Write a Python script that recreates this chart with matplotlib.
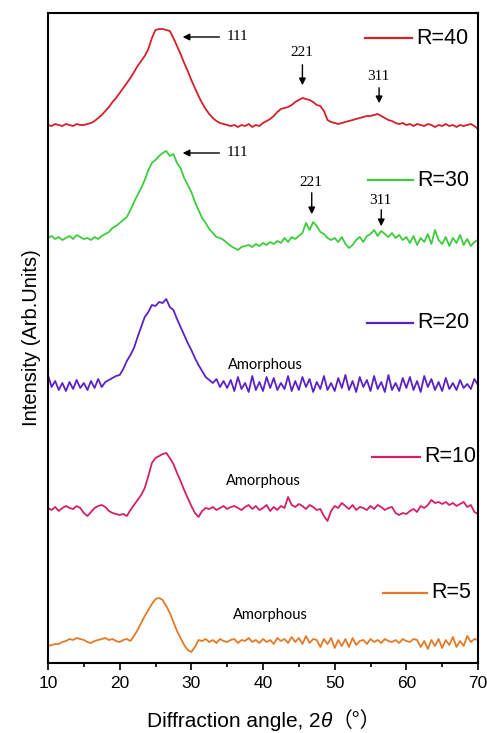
import numpy as np
import matplotlib
matplotlib.use("Agg")
import matplotlib.pyplot as plt

# 2-theta grid, 10..70 deg in 0.5 deg steps
two_theta = np.arange(10, 70.01, 0.5)

# intensities (arb. units), rows of 5 degrees
r40 = [1, 0, 2, 1, 0, 2, 1, 0, 2, 1,
       1, 2, 3, 5, 8, 11, 15, 19, 24, 28,
       33, 38, 43, 48, 54, 60, 65, 70, 77, 88,
       96, 97, 97, 96, 95, 88, 80, 72, 63, 55,
       46, 38, 30, 23, 17, 12, 8, 5, 3, 2,
       1, 0, 1, -1, 1, 0, 2, -1, 1, 0,
       3, 5, 7, 10, 14, 17, 18, 19, 21, 24,
       26, 28, 27, 26, 24, 21, 20, 15, 6, 4,
       3, 2, 3, 4, 5, 6, 7, 8, 9, 10,
       10, 11, 12, 10, 8, 6, 5, 3, 2, 3,
       1, 2, 0, 2, 1, 0, 2, 1, -1, 1,
       0, 2, 0, 1, -1, 1, 0, 1, 2, 0,
       -3]
r30 = [2, 4, 1, 3, 0, 2, 4, 1, 5, 3,
       1, 2, 0, 3, 1, 4, 6, 8, 12, 14,
       17, 20, 23, 30, 38, 45, 52, 60, 70, 77,
       80, 84, 87, 89, 84, 86, 77, 72, 62, 55,
       48, 38, 30, 22, 17, 11, 7, 3, 2, 0,
       -3, -6, -8, -10, -7, -6, -5, -7, -4, -6,
       -3, -5, -2, -4, -1, -3, 2, -2, 3, 1,
       4, 7, 17, 10, 18, 14, 8, 6, 2, 0,
       2, -2, 3, -4, -8, -5, 0, 3, -2, 4,
       6, 10, 4, 9, 6, 3, 7, 2, 5, 0,
       3, -3, 4, -5, 2, -2, 6, -4, 10, 0,
       -4, 3, -6, 2, -3, 5, -5, 1, -6, -2,
       0]
r20 = [10, -2, 4, -5, 2, -6, 3, -4, 5, -3,
       2, -5, 4, -3, 6, -2, 3, 5, 7, 9,
       10, 16, 24, 30, 37, 48, 58, 68, 73, 80,
       79, 83, 82, 86, 78, 75, 66, 58, 50, 42,
       35, 27, 20, 14, 8, 5, 2, 6, -2, 4,
       -3, 5, -6, 8, -4, 2, -7, 9, -5, 3,
       -6, 8, -3, 7, -5, 2, -4, 9, -6, 4,
       -5, 8, -2, 6, -7, 3, -4, 9, -5, 2,
       -6, 7, -3, 10, -5, 4, -7, 8, -2, 5,
       -6, 9, -4, 3, -7, 10, -5, 2, -6, 7,
       -3, 8, -5, 4, -7, 9, -2, 6, -5, 3,
       -6, 7, -4, 2, -5, 5, -3, 1, -4, 6,
       0]
r10 = [0, -2, 1, -3, 0, 2, 0, -1, 2, 0,
       -5, -8, -4, 0, 2, 3, 1, -3, -5, -6,
       -7, -6, -8, -2, 3, 8, 13, 20, 32, 45,
       50, 52, 54, 55, 50, 44, 35, 27, 18, 10,
       2, -5, -9, -3, 0, -1, 1, -2, 0, 2,
       -1, 1, 2, 0, -2, 1, 3, -1, 2, -2,
       0, 3, -3, 1, -2, 2, 0, 11, 3, 1,
       4, 2, -1, 3, 1, -2, -1, -8, -13, -3,
       2, 0, 5, 2, -1, 3, -2, 1, 0, -2,
       2, -1, 3, 1, -2, 0, 1, -5, -7, -5,
       -6, -3, -1, -4, 2, 0, 3, 8, 5, 6,
       4, 6, 3, 5, 2, 4, 6, 1, 3, -4,
       -6]
r5 = [-4, -3, -2, -2, 0, 1, 3, 2, 4, 3,
      2, 0, -1, 1, 2, 3, 4, 2, 3, 1,
      0, 2, 3, 1, 6, 12, 19, 26, 32, 38,
      43, 44, 42, 36, 29, 20, 11, 4, -3, -8,
      -10, -5, 2, 1, 3, 0, 2, -1, 3, 1,
      0, 2, 3, -1, 2, 1, 4, 0, 2, -1,
      3, 0, 2, -2, 4, 1, 3, -1, 5, 0,
      4, -2, 6, -1, 3, 2, -5, 3, -2, 4,
      -6, 2, -4, 3, -5, 4, -3, 1, 2, -2,
      3, 0, 2, -1, 3, 1, 0, 2, -1, 3,
      1, 0, 3, 2, -5, 1, -7, 2, -4, 3,
      -6, 2, -3, 5, -5, 1, -4, 6, 0, 3,
      2]

labels = ["R=40", "R=30", "R=20", "R=10", "R=5"]
series = [r40, r30, r20, r10, r5]
offsets = [537, 423, 278, 155, 21]
colors = ["#d42028", "#3ccc3c", "#5a22c4", "#d2206c", "#e47a28"]
# legend line (x0, x1, y) per trace
legend_pos = [(54.2, 60.8, 625), (54.6, 60.9, 483), (54.5, 60.9, 340),
              (55.2, 61.9, 206), (56.7, 62.9, 70)]

fig = plt.figure(figsize=(4.87, 7.33), dpi=100)
ax = fig.add_axes([48 / 487, 1 - 663 / 733, 430 / 487, 650 / 733])

for y, off, c, lab, (lx0, lx1, ly) in zip(series, offsets, colors, labels, legend_pos):
    ax.plot(two_theta, np.array(y) + off, color=c, lw=1.3)
    ax.plot([lx0, lx1], [ly, ly], color=c, lw=1.6)
    ax.text(lx1 + 0.6, ly, lab, fontsize=15.5, family="Liberation Sans",
            va="center", ha="left")

# peak annotations
arrow = dict(arrowstyle="-|>", color="black", lw=1, mutation_scale=10)
ann_font = dict(fontsize=11, family="Liberation Serif")
# 111 peaks (horizontal arrows)
for yy in [626, 510]:
    ax.annotate("", xy=(28.4, yy), xytext=(34.3, yy), arrowprops=arrow)
    ax.text(34.9, yy, "111", va="center", ha="left", **ann_font)
# 221 / 311 (vertical arrows)
for lab, x, ty, y0, y1 in [("221", 45.5, 611, 601, 575), ("311", 56.2, 586, 578, 557),
                           ("221", 46.8, 481, 473, 446), ("311", 56.5, 463, 456, 434)]:
    ax.annotate("", xy=(x, y1), xytext=(x, y0), arrowprops=arrow)
    ax.text(x - 0.1, ty, lab, va="center", ha="center", **ann_font)

for x, y in [(40.3, 298), (40.0, 182), (41.0, 48)]:
    ax.text(x, y, "Amorphous", fontsize=10.5, family="Lato", ha="center", va="center")

ax.set_xlim(10, 70)
ax.set_ylim(0, 650)
ax.set_xticks(range(10, 71, 10))
ax.set_xticks(range(15, 70, 10), minor=True)
ax.set_yticks([])
ax.tick_params(axis="x", which="major", length=5, width=1.2, direction="out", labelsize=12.5, pad=4)
ax.tick_params(axis="x", which="minor", length=3, width=1.2, direction="out")
for lbl in ax.get_xticklabels():
    lbl.set_family("Liberation Sans")
for s in ax.spines.values():
    s.set_linewidth(1.5)

ax.set_ylabel("Intensity (Arb.Units)", fontsize=14.5, family="Liberation Sans", labelpad=5)

# x label in pieces: upright text, italic theta, full-width brackets
base_y = 1 - 727 / 733
t1 = fig.text(147 / 487, base_y, "Diffraction angle, 2", fontsize=15,
              family="Liberation Sans", va="baseline", ha="left")
fig.canvas.draw()
x2 = t1.get_window_extent().x1 / fig.bbox.width
t2 = fig.text(x2, base_y, "θ", fontsize=15, family="Liberation Sans", style="italic",
              va="baseline", ha="left")
fig.canvas.draw()
x3 = t2.get_window_extent().x1 / fig.bbox.width
fig.text(x3, base_y, "（°）", fontsize=15, family=["Noto Sans CJK SC", "DejaVu Sans"],
         va="baseline", ha="left")

fig.savefig("out.png", dpi=100)
